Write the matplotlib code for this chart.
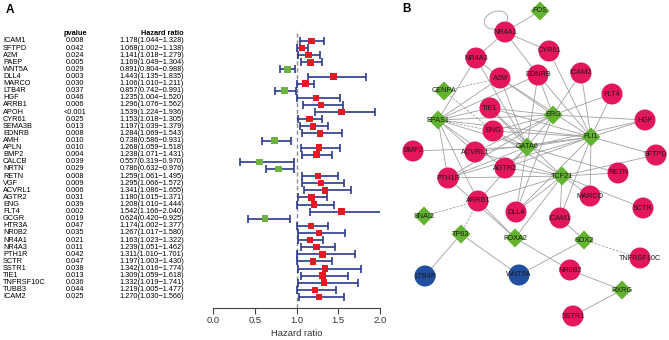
import matplotlib
matplotlib.use("Agg")
import matplotlib.pyplot as plt
import matplotlib.transforms as mtransforms
from matplotlib.patches import Circle, RegularPolygon, Arc
import numpy as np

plt.rcParams["font.family"] = ["Liberation Sans", "DejaVu Sans"]

# ---- forest plot data (panel A) ----
genes = ["ICAM1", "SFTPD", "A2M", "PAEP", "WNT5A", "DLL4", "MARCO", "LTB4R", "HGF",
         "ARRB1", "APOH", "CYR61", "SEMA3B", "EDNRB", "AMH", "APLN", "BMP2", "CALCB",
         "NRTN", "RETN", "VGF", "ACVRL1", "AGTR2", "ENG", "FLT4", "GCGR", "HTR3A",
         "NR0B2", "NR4A1", "NR4A3", "PTH1R", "SCTR", "SSTR1", "TIE1", "TNFRSF10C",
         "TUBB3", "ICAM2"]
pvalues = ["0.008", "0.042", "0.024", "0.005", "0.029", "0.003", "0.030", "0.037", "0.046",
           "0.006", "<0.001", "0.025", "0.013", "0.008", "0.010", "0.010", "0.004", "0.039",
           "0.029", "0.008", "0.009", "0.006", "0.031", "0.039", "0.002", "0.019", "0.047",
           "0.035", "0.021", "0.011", "0.042", "0.047", "0.038", "0.013", "0.036",
           "0.044", "0.025"]
hr = [1.178, 1.068, 1.141, 1.169, 0.891, 1.443, 1.106, 0.857, 1.235,
      1.296, 1.539, 1.153, 1.197, 1.284, 0.738, 1.268, 1.238, 0.557,
      0.786, 1.259, 1.295, 1.341, 1.180, 1.208, 1.542, 0.624, 1.174,
      1.267, 1.163, 1.239, 1.311, 1.197, 1.342, 1.309, 1.332,
      1.219, 1.270]
hr_low = [1.044, 1.002, 1.018, 1.049, 0.804, 1.135, 1.010, 0.742, 1.004,
          1.076, 1.224, 1.018, 1.039, 1.069, 0.586, 1.059, 1.071, 0.319,
          0.632, 1.061, 1.066, 1.086, 1.015, 1.010, 1.166, 0.420, 1.002,
          1.017, 1.023, 1.051, 1.010, 1.003, 1.016, 1.059, 1.019,
          1.005, 1.030]
hr_high = [1.328, 1.138, 1.279, 1.304, 0.988, 1.835, 1.211, 0.991, 1.520,
           1.562, 1.936, 1.305, 1.379, 1.543, 0.931, 1.518, 1.431, 0.970,
           0.976, 1.495, 1.572, 1.655, 1.371, 1.444, 2.040, 0.925, 1.377,
           1.580, 1.322, 1.462, 1.701, 1.430, 1.774, 1.618, 1.741,
           1.477, 1.566]

# ---- network data (panel B) ----
node_names = ["FOS", "NR4A1", "NR4A3", "CYR61", "A2M", "EDNRB", "ICAM2", "FLT4", "CENPA",
              "TIE1", "ERG", "HGF", "EPAS1", "ENG", "FLI1", "GATA6", "BMP2", "ACVRL1",
              "SFTPD", "AGTR2", "PTH1R", "TCF21", "RETN", "MARCO", "SCTR", "ARRB1",
              "DLL4", "ICAM1", "SNAI2", "TP63", "FOXA2", "SOX2", "TNFRSF10C", "LTB4R",
              "WNT5A", "NR0B2", "RXRG", "SSTR1"]
node_x = [540, 505, 476, 549, 500, 538, 581, 612, 444,
          490, 553, 645, 438, 493, 591, 527, 413, 475,
          656, 505, 448, 562, 618, 590, 643, 478,
          516, 560, 424, 461, 515, 584, 640, 425,
          519, 570, 622, 573]
node_y = [11, 32, 58, 51, 78, 75, 73, 94, 91,
          108, 115, 120, 120, 131, 137, 147, 151, 152,
          155, 168, 178, 176, 173, 196, 208, 201,
          212, 218, 216, 234, 238, 240, 258, 276,
          275, 270, 290, 316]
node_kind = ["tf", "up", "up", "up", "up", "up", "up", "up", "tf",
             "up", "tf", "up", "tf", "up", "tf", "tf", "up", "up",
             "up", "up", "up", "tf", "up", "up", "up", "up",
             "up", "up", "tf", "tf", "tf", "tf", "up", "down",
             "down", "up", "tf", "up"]
edges_solid = [
    ("FOS", "NR4A1"), ("NR4A1", "NR4A3"), ("NR4A1", "CYR61"), ("NR4A1", "EDNRB"),
    ("NR4A3", "EPAS1"), ("NR4A3", "A2M"), ("NR4A3", "GATA6"), ("CYR61", "FLI1"),
    ("EPAS1", "A2M"), ("EPAS1", "TIE1"), ("EPAS1", "ACVRL1"), ("EPAS1", "PTH1R"),
    ("EPAS1", "ARRB1"), ("EPAS1", "AGTR2"), ("EPAS1", "ERG"), ("EPAS1", "EDNRB"),
    ("EPAS1", "GATA6"), ("EPAS1", "FLI1"),
    ("ERG", "EDNRB"), ("ERG", "A2M"), ("ERG", "ICAM2"), ("ERG", "TIE1"), ("ERG", "ENG"),
    ("ERG", "HGF"), ("ERG", "ACVRL1"), ("ERG", "GATA6"), ("ERG", "DLL4"), ("ERG", "FLT4"),
    ("ERG", "PTH1R"),
    ("FLI1", "EDNRB"), ("FLI1", "ICAM2"), ("FLI1", "FLT4"), ("FLI1", "HGF"), ("FLI1", "A2M"),
    ("FLI1", "TIE1"), ("FLI1", "ENG"), ("FLI1", "SFTPD"), ("FLI1", "ACVRL1"),
    ("FLI1", "AGTR2"), ("FLI1", "DLL4"), ("FLI1", "ICAM1"), ("FLI1", "MARCO"),
    ("FLI1", "GATA6"), ("FLI1", "PTH1R"),
    ("GATA6", "A2M"), ("GATA6", "TIE1"), ("GATA6", "ENG"), ("GATA6", "BMP2"),
    ("GATA6", "AGTR2"), ("GATA6", "PTH1R"), ("GATA6", "ARRB1"), ("GATA6", "DLL4"),
    ("GATA6", "EDNRB"), ("GATA6", "RETN"), ("GATA6", "HGF"),
    ("TCF21", "ACVRL1"), ("TCF21", "AGTR2"), ("TCF21", "PTH1R"), ("TCF21", "ARRB1"),
    ("TCF21", "DLL4"), ("TCF21", "ICAM1"), ("TCF21", "MARCO"), ("TCF21", "RETN"),
    ("TCF21", "SCTR"), ("TCF21", "ENG"), ("TCF21", "TIE1"), ("TCF21", "SFTPD"),
    ("TP63", "LTB4R"), ("TP63", "WNT5A"),
    ("FOXA2", "ARRB1"), ("FOXA2", "NR0B2"), ("FOXA2", "TCF21"), ("FOXA2", "PTH1R"),
    ("SOX2", "ICAM1"), ("SOX2", "WNT5A"),
    ("RXRG", "NR0B2"), ("RXRG", "SSTR1"),
]
edges_dashed = [("CENPA", "A2M"), ("CENPA", "ENG"), ("EPAS1", "ENG"),
                ("SNAI2", "ARRB1"), ("TP63", "ARRB1"), ("SOX2", "TNFRSF10C")]

RED = "#e41a23"
GREEN = "#6cb33f"
NAVY = "#2a3a8a"
PINK = "#e3175a"
TFGREEN = "#62b32e"
BLUE = "#1f4f9e"
EDGE = "#a0a0a0"

fig = plt.figure(figsize=(6.69, 3.4), dpi=100)

# ---- panel A ----
W, H = 669.0, 340.0
x0, x1 = 213, 380
ytop, ybot = 30.3, 308
ax = fig.add_axes([x0 / W, 1 - ybot / H, (x1 - x0) / W, (ybot - ytop) / H])
n = len(genes)
rows = np.arange(n)
hr_a = np.array(hr)
lo_a = np.array(hr_low)
hi_a = np.array(hr_high)
ax.errorbar(hr_a, rows, xerr=[hr_a - lo_a, hi_a - hr_a], fmt="none", ecolor=NAVY,
            elinewidth=1.2, capsize=2.6, capthick=1.2, zorder=2)
cols = [RED if v > 1 else GREEN for v in hr]
ax.scatter(hr_a, rows, marker="s", s=22, c=cols, zorder=3, linewidths=0)
ax.axvline(1.0, color="#8c8c8c", ls=(0, (3, 2)), lw=1.0, zorder=1)
ax.set_xlim(0, 2)
ax.set_ylim(37.55, -1.5)
for s in ["left", "top", "right"]:
    ax.spines[s].set_visible(False)
ax.spines["bottom"].set_color("#444444")
ax.set_yticks([])
ax.set_xticks([0, 0.5, 1.0, 1.5, 2.0])
ax.set_xticklabels(["0.0", "0.5", "1.0", "1.5", "2.0"], fontsize=6.8, color="#333333")
ax.tick_params(axis="x", length=4, color="#444444", pad=2)
ax.set_xlabel("Hazard ratio", fontsize=6.8, color="#333333", labelpad=2.5)

tr = mtransforms.blended_transform_factory(fig.transFigure, ax.transData)
fs = 5.3
for i in range(n):
    ax.text(3 / W, i, genes[i], transform=tr, fontsize=fs, ha="left", va="center", clip_on=False)
    ax.text(75 / W, i, pvalues[i], transform=tr, fontsize=fs, ha="center", va="center", clip_on=False)
    ax.text(184 / W, i, f"{hr[i]:.3f}({hr_low[i]:.3f}\u2212{hr_high[i]:.3f})", transform=tr,
            fontsize=fs, ha="right", va="center", clip_on=False)
ax.text(75 / W, -1.1, "pvalue", transform=tr, fontsize=fs, ha="center", va="center",
        fontweight="bold", clip_on=False)
ax.text(184 / W, -1.1, "Hazard ratio", transform=tr, fontsize=fs, ha="right", va="center",
        fontweight="bold", clip_on=False)

fig.text(6 / W, 1 - 10 / H, "A", fontsize=8.5, fontweight="bold", ha="left", va="center")
fig.text(402 / W, 1 - 9 / H, "B", fontsize=8.5, fontweight="bold", ha="left", va="center")

# ---- panel B ----
net = fig.add_axes([0, 0, 1, 1])
net.set_xlim(0, W)
net.set_ylim(H, 0)
net.axis("off")
net.patch.set_alpha(0)
pos = {nm: (x, y) for nm, x, y in zip(node_names, node_x, node_y)}
for a, b in edges_solid:
    net.plot([pos[a][0], pos[b][0]], [pos[a][1], pos[b][1]], color=EDGE, lw=0.6, zorder=1)
for a, b in edges_dashed:
    net.plot([pos[a][0], pos[b][0]], [pos[a][1], pos[b][1]], color=EDGE, lw=0.6,
             ls=(0, (3, 1.5)), zorder=1)
# self loop on NR4A1
net.add_patch(Arc((496, 20), 24, 17, angle=-20, theta1=0, theta2=360, color=EDGE, lw=0.6, zorder=1))

for nm, x, y, k in zip(node_names, node_x, node_y, node_kind):
    if k == "tf":
        net.add_patch(RegularPolygon((x, y), numVertices=4, radius=9.5, orientation=0,
                                     facecolor=TFGREEN, edgecolor="none", zorder=2))
    else:
        net.add_patch(Circle((x, y), 10.5, facecolor=PINK if k == "up" else BLUE,
                             edgecolor="none", zorder=2))
    net.text(x, y, nm, fontsize=5.2, ha="center", va="center", color="#1a1a1a", zorder=3)

fig.savefig("out.png", dpi=100)
